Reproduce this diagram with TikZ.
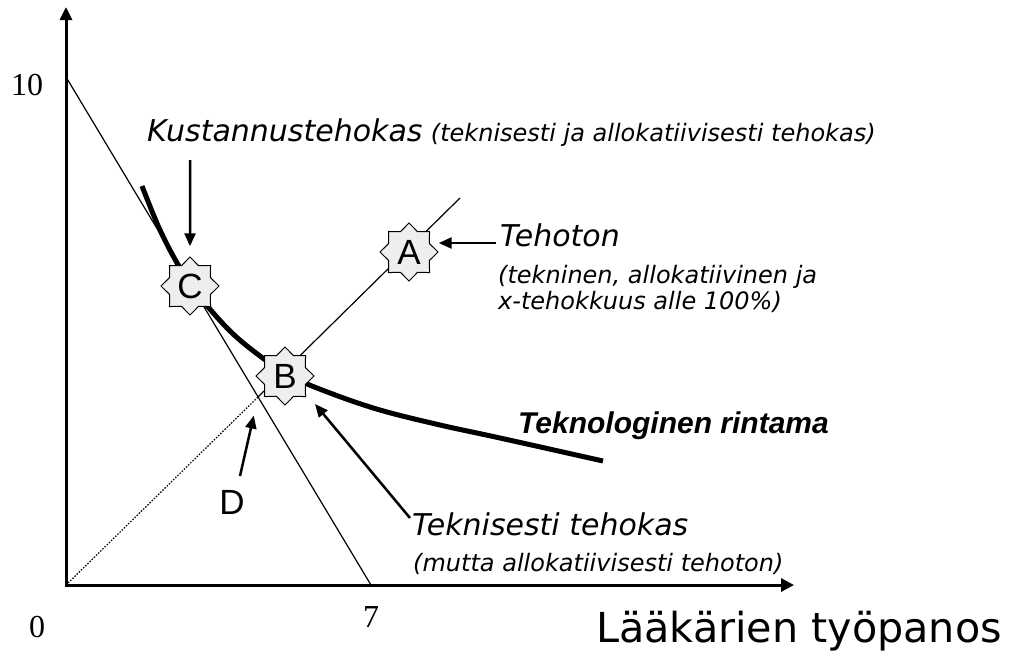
\documentclass[tikz,border=0pt]{standalone}
\usepackage{fontspec}
\setmainfont{DejaVu Sans}
\newfontfamily\tnr{Liberation Serif}
\newfontfamily\arial{Liberation Sans}
\usetikzlibrary{arrows.meta,shapes.geometric}
\begin{document}
\begin{tikzpicture}[x=1pt,y=-1pt,
 axis/.style={line width=3pt,{Triangle[length=13pt,width=12pt]}-{Triangle[length=13pt,width=13pt]}},
 thinline/.style={line width=1.2pt},
 frontier/.style={line width=5pt},
 pointer/.style={line width=2.5pt,-{Triangle[length=13pt,width=11pt]}},
 stardot/.style={star,star points=8,star point ratio=1.31,minimum size=58pt,inner sep=0pt,draw=black,line width=1pt,fill=gray!13,font=\arial\fontsize{35}{35}\selectfont},
 bigit/.style={font=\itshape\fontsize{30}{36}\selectfont,inner sep=0pt,anchor=base west},
 smallit/.style={font=\itshape\fontsize{24}{28}\selectfont,inner sep=0pt,anchor=base west},
 numlab/.style={font=\tnr\fontsize{32}{32}\selectfont,inner sep=0pt}
]
\useasboundingbox (0,0) rectangle (1019,651);
% axes
\coordinate (O) at (66,585);
\coordinate (Ytop) at (66,7);
\coordinate (Xend) at (794,585);
\draw[axis] (Ytop) -- (O) -- (Xend);
% budget line
\coordinate (Y10) at (66,77);
\coordinate (X7) at (371,585);
\draw[thinline] (Y10) -- (X7);
% ray
\coordinate (D) at (258,397);
\coordinate (Rend) at (460,198);
\draw[line width=1.2pt,dash pattern=on 1.5pt off 1.5pt] (O) -- (D);
\draw[thinline] (D) -- (Rend);
% frontier
\draw[frontier] plot[smooth,tension=0.6] coordinates {(142,186) (160,230) (180,268) (200,297) (230,331) (260,356) (290,376) (330,393) (380,410) (440,425) (500,438) (603,461)};
% points
\node[stardot] (C) at (190,286) {C};
\node[stardot] (B) at (285,376) {B};
\node[stardot] (A) at (409,252) {A};
% pointers
\coordinate (kt) at (190,160);
\draw[pointer,shorten >=10pt] (kt) -- (C.north);
\coordinate (at) at (496,243);
\draw[pointer] (at) -- (at -| A.east);
\coordinate (dt) at (240,476);
\draw[pointer,shorten >=19pt] (dt) -- (D);
\coordinate (bt) at (410,518);
\coordinate (bh) at (315,404);
\draw[pointer] (bt) -- (bh);
% labels
\node[numlab] (n10) at (27,85) {10};
\node[numlab] (n0) at (37,627) {0};
\node[numlab] (n7) at (371,617) {7};
\node[font=\arial\fontsize{35}{35}\selectfont,inner sep=0pt] (Dl) at (232,502) {D};
\node[bigit] (lblK) at (147,141) {Kustannustehokas};
\node[smallit] (lblKs) at ([xshift=8pt]lblK.base east) {(teknisesti ja allokatiivisesti tehokas)};
\node[bigit] (lblT) at (500,246) {Tehoton};
\node[smallit] (lblT1) at (498,283) {(tekninen, allokatiivinen ja};
\node[smallit] (lblT2) at (498,309) {x-tehokkuus alle 100\%)};
\node[font=\arial\bfseries\itshape\fontsize{30}{36}\selectfont,inner sep=0pt,anchor=base west] (lblTR) at (518,433) {Teknologinen rintama};
\node[bigit] (lblTT) at (412,535) {Teknisesti tehokas};
\node[smallit] (lblTT2) at (413,571) {(mutta allokatiivisesti tehoton)};
\node[font=\fontsize{41.3}{44}\selectfont,inner sep=0pt,anchor=base west] (lblX) at (596,642) {Lääkärien työpanos};
\end{tikzpicture}
\end{document}
